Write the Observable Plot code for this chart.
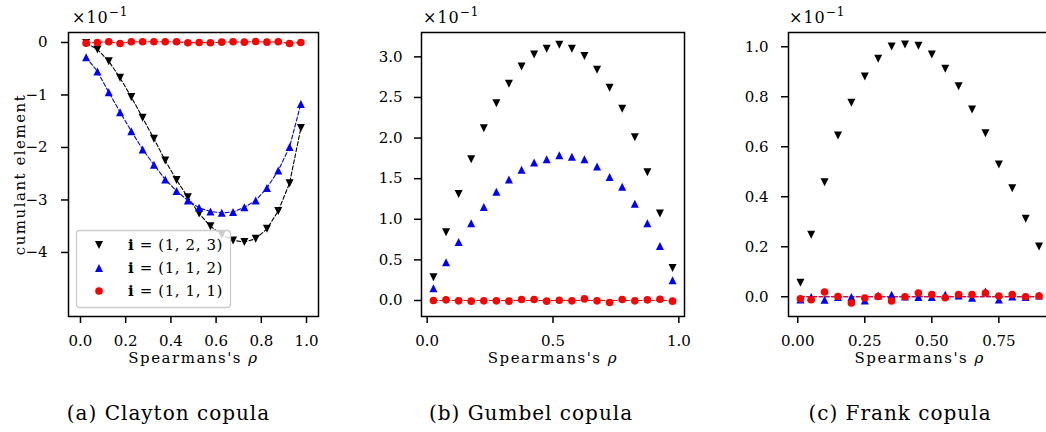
<!DOCTYPE html>
<html><head><meta charset="utf-8">
<script src="https://cdn.jsdelivr.net/npm/d3@7"></script>
<script src="https://cdn.jsdelivr.net/npm/@observablehq/plot@0.6"></script>
<style>
body{margin:0;background:#fff;}
#fig{position:relative;width:1046px;height:432px;overflow:hidden;background:#fff;}
g[aria-label="text"] text{letter-spacing:1.5px;}
</style></head><body><div id="fig"></div>
<script>
// ---------- data (values in units of 10^-1) ----------
const rhoAB = [0.025,0.075,0.125,0.175,0.225,0.275,0.325,0.375,0.425,0.475,0.525,0.575,0.625,0.675,0.725,0.775,0.825,0.875,0.925,0.975];
const claytonI123 = [-0.01,-0.133,-0.356,-0.673,-1.04,-1.435,-1.835,-2.25,-2.62,-2.95,-3.26,-3.50,-3.66,-3.77,-3.80,-3.74,-3.55,-3.21,-2.68,-1.63];
const claytonI112 = [-0.28,-0.552,-0.946,-1.327,-1.689,-2.038,-2.33,-2.61,-2.83,-3.01,-3.15,-3.22,-3.245,-3.23,-3.14,-3.01,-2.77,-2.44,-1.99,-1.17];
const claytonI111 = [-0.013,0,0.013,-0.019,0.013,0.013,0.013,0.013,0.013,-0.006,0,-0.006,0.006,0.013,0.006,0.019,0.006,0.013,-0.019,0];

const gumbelI123 = [0.287,0.84,1.31,1.74,2.12,2.43,2.67,2.88,3.03,3.10,3.15,3.10,3.01,2.84,2.62,2.36,2.01,1.58,1.07,0.40];
const gumbelI112 = [0.15,0.47,0.72,0.95,1.15,1.34,1.49,1.61,1.70,1.74,1.79,1.77,1.74,1.65,1.52,1.40,1.19,0.95,0.67,0.25];
const gumbelI111 = [0,0.008,-0.004,-0.008,-0.004,-0.004,-0.008,0.012,0.012,-0.008,0.004,-0.004,0.02,-0.004,-0.025,0.012,-0.004,0.008,0.016,-0.008];

const rhoC = [0.01,0.05,0.10,0.15,0.20,0.25,0.30,0.35,0.40,0.45,0.50,0.55,0.60,0.65,0.70,0.75,0.80,0.85,0.90];
const frankI123 = [0.056,0.248,0.458,0.645,0.776,0.881,0.952,1.001,1.009,1.004,0.969,0.912,0.842,0.749,0.654,0.529,0.434,0.312,0.201];
const frankI112 = [-0.011,-0.001,-0.012,-0.001,-0.001,-0.015,0.005,0.008,0.001,-0.001,-0.001,0.008,0.005,-0.004,0.021,-0.011,0.001,-0.001,0.005];
const frankI111 = [-0.008,-0.012,0.019,0.001,-0.025,-0.005,0.001,-0.017,0.0,0.015,0.009,-0.004,0.009,0.009,0.015,0.003,0.009,0,0.003];

// theoretical zero lines
const theoryRhoB = [0.025,0.975], theoryB = [0,0];
const theoryRhoC = [0.01,0.90], theoryC = [0,0];

// ticks & labels
const xTicksA = [0,0.2,0.4,0.6,0.8,1.0];
const yTicksA = [0,-1,-2,-3,-4];
const xTicksB = [0,0.5,1.0];
const yTicksB = [0,0.5,1.0,1.5,2.0,2.5,3.0];
const xTicksC = [0,0.25,0.5,0.75];
const yTicksC = [0,0.2,0.4,0.6,0.8,1.0];
const xLabel = "Spearmans's ρ";
const yLabel = "cumulant element";
const offsetLabel = ["×10","−1"];
const legendLabels = [" = (1, 2, 3)"," = (1, 1, 2)"," = (1, 1, 1)"];
const captions = ["(a) Clayton copula","(b) Gumbel copula","(c) Frank copula"];

// ---------- helpers ----------
const rows = (xs, ys) => xs.map((x, i) => ({x, y: ys[i]}));
const triUp = {draw(ctx, size){const r=Math.sqrt(size/Math.PI); ctx.moveTo(0,-r); ctx.lineTo(r,r); ctx.lineTo(-r,r); ctx.closePath();}};
const triDown = {draw(ctx, size){const r=Math.sqrt(size/Math.PI); ctx.moveTo(0,r); ctx.lineTo(r,-r); ctx.lineTo(-r,-r); ctx.closePath();}};
const minus = s => s.replace("-", "−");
const DASH = "4,2.2";
const FONT = "DejaVu Serif";

function panel(o) {
  const marks = [Plot.frame({stroke:"black", strokeWidth:1.5})];
  for (const l of o.lines) marks.push(Plot.line(l.data, {x:"x", y:"y", stroke:l.color, strokeWidth:1.1, strokeDasharray:DASH}));
  for (const s of o.series) marks.push(Plot.dot(s.data, {x:"x", y:"y", symbol:s.symbol, r:s.r ?? 4, fill:s.color, stroke:"none"}));
  marks.push(
    Plot.axisX({ticks:o.xTicks, tickFormat:o.xFmt, tickSize:7, tickPadding:12, strokeWidth:1.5, fontSize:15, label:null}),
    Plot.axisY({ticks:o.yTicks, tickFormat:o.yFmt, tickSize:7, tickPadding:o.yPad, strokeWidth:1.5, fontSize:15, label:null}),
    Plot.text([xLabel], {frameAnchor:"bottom", dy:46, lineAnchor:"bottom", textAnchor:"middle", fontSize:15})
  );
  if (o.yLabel) marks.push(Plot.text([o.yLabel], {frameAnchor:"left", rotate:-90, dx:-44, lineAnchor:"bottom", textAnchor:"middle", fontSize:15}));
  const svg = Plot.plot({
    width:o.width, height:370,
    marginLeft:o.mL, marginRight:o.mR, marginTop:32, marginBottom:54,
    x:{domain:o.xDomain}, y:{domain:o.yDomain},
    style:{fontFamily:FONT, fontSize:"15px", color:"black", background:"transparent", overflow:"visible"},
    marks
  });
  svg.style.position = "absolute";
  svg.style.left = o.left + "px";
  svg.style.top = "0px";
  d3.select(svg).selectAll('g[aria-label="text"] text').each(function(){
    const t = d3.select(this), s = t.text();
    if (s.endsWith("ρ")) { t.text(s.slice(0,-1)); t.append("tspan").attr("font-style","italic").text("ρ"); }
  });
  document.getElementById("fig").appendChild(svg);
}

panel({
  left:0, width:330, mL:68, mR:12,
  xDomain:[-0.053,1.053], yDomain:[-5.22,0.19],
  xTicks:xTicksA, xFmt:d=>d.toFixed(1), yTicks:yTicksA, yFmt:d=>minus(String(d)), yPad:14,
  yLabel:yLabel,
  lines:[{data:rows(rhoAB,claytonI123),color:"black"},{data:rows(rhoAB,claytonI112),color:"blue"},{data:rows(rhoAB,claytonI111),color:"red"}],
  series:[{data:rows(rhoAB,claytonI123),symbol:triDown,color:"black"},{data:rows(rhoAB,claytonI112),symbol:triUp,color:"blue"},{data:rows(rhoAB,claytonI111),symbol:"circle",color:"red",r:3.8}]
});
panel({
  left:360, width:340, mL:61, mR:16,
  xDomain:[-0.0225,1.0225], yDomain:[-0.197,3.30],
  xTicks:xTicksB, xFmt:d=>d.toFixed(1), yTicks:yTicksB, yFmt:d=>d.toFixed(1), yPad:12,
  lines:[{data:rows(theoryRhoB,theoryB),color:"red"}],
  series:[{data:rows(rhoAB,gumbelI123),symbol:triDown,color:"black"},{data:rows(rhoAB,gumbelI112),symbol:triUp,color:"blue"},{data:rows(rhoAB,gumbelI111),symbol:"circle",color:"red",r:3.8}]
});
panel({
  left:720, width:340, mL:68, mR:9.5,
  xDomain:[-0.0345,0.9445], yDomain:[-0.079,1.057],
  xTicks:xTicksC, xFmt:d=>d.toFixed(2), yTicks:yTicksC, yFmt:d=>d.toFixed(1), yPad:13,
  lines:[{data:rows(theoryRhoC,theoryC),color:"blue"},{data:rows(theoryRhoC,theoryC),color:"red"}],
  series:[{data:rows(rhoC,frankI123),symbol:triDown,color:"black"},{data:rows(rhoC,frankI112),symbol:triUp,color:"blue"},{data:rows(rhoC,frankI111),symbol:"circle",color:"red",r:3.8}]
});

// ---------- annotations overlay ----------
const ov = d3.select("#fig").append("svg")
  .attr("width",1046).attr("height",432)
  .style("position","absolute").style("left","0px").style("top","0px")
  .attr("font-family",FONT).style("white-space","pre");

for (const x of [72,423,789]) {
  const t = ov.append("text").attr("x",x).attr("y",23).attr("font-size",16).attr("letter-spacing",1);
  t.append("tspan").text(offsetLabel[0]);
  t.append("tspan").attr("font-size",12).attr("dy",-7).text(offsetLabel[1]);
}

ov.append("rect").attr("x",76.5).attr("y",230.5).attr("width",154).attr("height",77).attr("rx",3)
  .attr("fill","white").attr("fill-opacity",0.8).attr("stroke","#cccccc").attr("stroke-width",1.3);
const legSym = [d3.symbol(triDown, 16*Math.PI)(), d3.symbol(triUp, 16*Math.PI)(), d3.symbol(d3.symbolCircle, 3.8*3.8*Math.PI)()];
const legCol = ["black","blue","red"];
const legY = [245,268,291];
legendLabels.forEach((lab,i)=>{
  ov.append("path").attr("d",legSym[i]).attr("fill",legCol[i]).attr("transform",`translate(99,${legY[i]})`);
  const t = ov.append("text").attr("x",128).attr("y",legY[i]+4.5).attr("font-size",15).attr("letter-spacing",0.6);
  t.append("tspan").attr("font-weight","bold").text("i");
  t.append("tspan").text(lab);
});

const capX = [168.5,531,900];
captions.forEach((c,i)=>{
  ov.append("text").attr("x",capX[i]).attr("y",420).attr("text-anchor","middle").attr("font-size",20).attr("letter-spacing",1).text(c);
});
</script></body></html>
